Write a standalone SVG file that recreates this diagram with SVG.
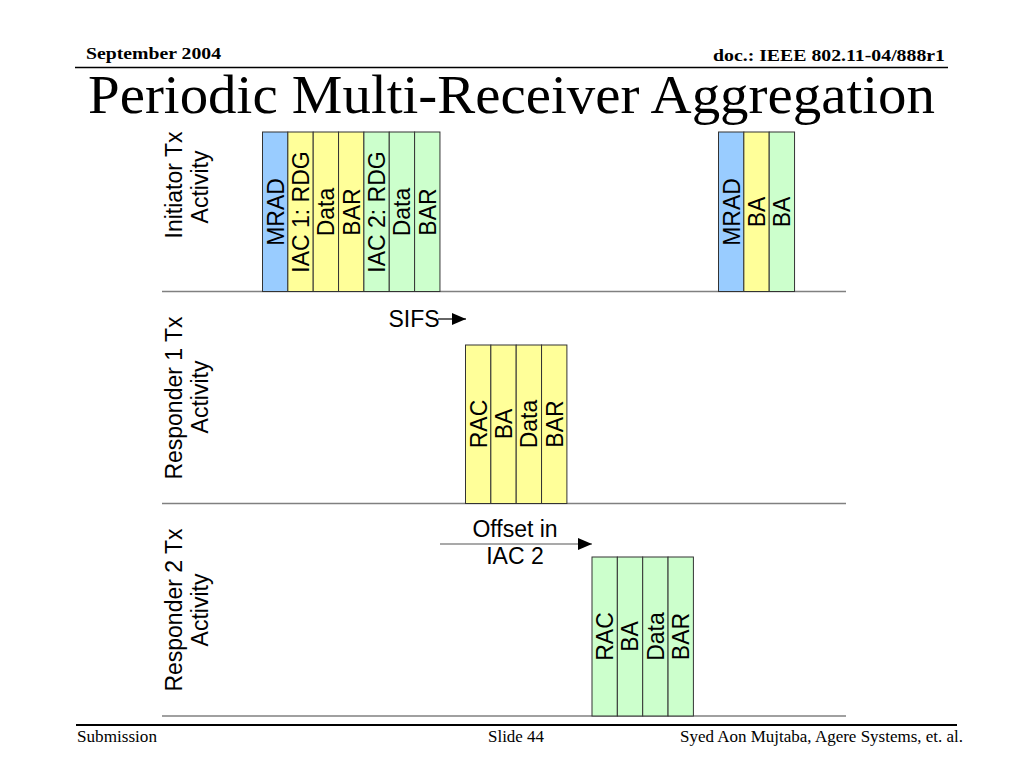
<svg xmlns="http://www.w3.org/2000/svg" width="1024" height="768" viewBox="0 0 1024 768">
<style>
.hdr{font-family:"Liberation Serif","Times New Roman",serif;font-weight:bold;font-size:17px;fill:#000}
.ftr{font-family:"Liberation Serif","Times New Roman",serif;font-size:17px;fill:#000}
.title{font-family:"Liberation Serif","Times New Roman",serif;font-size:54px;fill:#000}
.lbl{font-family:"Liberation Sans",Arial,sans-serif;font-size:23px;fill:#000;text-anchor:middle}
.bt{font-family:"Liberation Sans",Arial,sans-serif;font-size:23px;fill:#000;text-anchor:middle}
.blue{fill:#99CCFF;stroke:#333;stroke-width:1}
.yel{fill:#FFFF99;stroke:#333;stroke-width:1}
.grn{fill:#CCFFCC;stroke:#333;stroke-width:1}
.axis{stroke:#808080;stroke-width:1.5;fill:none}
.arr{stroke:#555;stroke-width:1.2;fill:none}
</style>
<defs>
<marker id="ah" viewBox="0 0 14 12" refX="14" refY="6" markerWidth="14" markerHeight="12" markerUnits="userSpaceOnUse" orient="auto">
<path d="M0,0 L14,6 L0,12 Z" fill="#000"/>
</marker>
</defs>
<rect width="1024" height="768" fill="#fff"/>

<g id="header">
<text class="hdr" x="86" y="59" textLength="135" lengthAdjust="spacingAndGlyphs">September 2004</text>
<text class="hdr" x="713" y="61" textLength="232" lengthAdjust="spacingAndGlyphs">doc.: IEEE 802.11-04/888r1</text>
<line x1="75" y1="67.5" x2="948" y2="67.5" stroke="#000" stroke-width="1.5"/>
<text class="title" x="88" y="113" textLength="847" lengthAdjust="spacingAndGlyphs">Periodic Multi-Receiver Aggregation</text>
</g>

<g id="row-labels">
<text class="lbl" transform="translate(182,185) rotate(-90)">Initiator Tx</text>
<text class="lbl" transform="translate(208,187) rotate(-90)">Activity</text>
<text class="lbl" transform="translate(182,398) rotate(-90)">Responder 1 Tx</text>
<text class="lbl" transform="translate(208,397) rotate(-90)">Activity</text>
<text class="lbl" transform="translate(182,610) rotate(-90)">Responder 2 Tx</text>
<text class="lbl" transform="translate(208,610) rotate(-90)">Activity</text>
</g>

<g id="axes">
<line class="axis" x1="162" y1="291.5" x2="846" y2="291.5"/>
<line class="axis" x1="162" y1="503.5" x2="846" y2="503.5"/>
<line class="axis" x1="162" y1="716" x2="846" y2="716"/>
</g>

<g id="initiator-frames1">
<rect class="blue" x="262.5" y="132" width="25.35" height="159.5"/>
<rect class="yel" x="287.85" y="132" width="25.35" height="159.5"/>
<rect class="yel" x="313.2" y="132" width="25.35" height="159.5"/>
<rect class="yel" x="338.55" y="132" width="25.35" height="159.5"/>
<rect class="grn" x="363.9" y="132" width="25.35" height="159.5"/>
<rect class="grn" x="389.25" y="132" width="25.35" height="159.5"/>
<rect class="grn" x="414.6" y="132" width="25.35" height="159.5"/>
<text class="bt" transform="translate(283.5,212) rotate(-90)">MRAD</text>
<text class="bt" transform="translate(308.8,212) rotate(-90)">IAC 1: RDG</text>
<text class="bt" transform="translate(334.2,212) rotate(-90)">Data</text>
<text class="bt" transform="translate(359.5,212) rotate(-90)">BAR</text>
<text class="bt" transform="translate(384.9,212) rotate(-90)">IAC 2: RDG</text>
<text class="bt" transform="translate(410.2,212) rotate(-90)">Data</text>
<text class="bt" transform="translate(435.6,212) rotate(-90)">BAR</text>
</g>

<g id="initiator-frames2">
<rect class="blue" x="718.5" y="132" width="25.35" height="159.5"/>
<rect class="yel" x="743.85" y="132" width="25.35" height="159.5"/>
<rect class="grn" x="769.2" y="132" width="25.35" height="159.5"/>
<text class="bt" transform="translate(739.5,212) rotate(-90)">MRAD</text>
<text class="bt" transform="translate(764.9,212) rotate(-90)">BA</text>
<text class="bt" transform="translate(790.2,212) rotate(-90)">BA</text>
</g>

<g id="responder1-frames">
<rect class="yel" x="465.5" y="345" width="25.35" height="158.5"/>
<rect class="yel" x="490.85" y="345" width="25.35" height="158.5"/>
<rect class="yel" x="516.2" y="345" width="25.35" height="158.5"/>
<rect class="yel" x="541.55" y="345" width="25.35" height="158.5"/>
<text class="bt" transform="translate(486.5,424) rotate(-90)">RAC</text>
<text class="bt" transform="translate(511.9,424) rotate(-90)">BA</text>
<text class="bt" transform="translate(537.2,424) rotate(-90)">Data</text>
<text class="bt" transform="translate(562.6,424) rotate(-90)">BAR</text>
</g>

<g id="responder2-frames">
<rect class="grn" x="592" y="557" width="25.35" height="159"/>
<rect class="grn" x="617.35" y="557" width="25.35" height="159"/>
<rect class="grn" x="642.7" y="557" width="25.35" height="159"/>
<rect class="grn" x="668.05" y="557" width="25.35" height="159"/>
<text class="bt" transform="translate(613,636.5) rotate(-90)">RAC</text>
<text class="bt" transform="translate(638.4,636.5) rotate(-90)">BA</text>
<text class="bt" transform="translate(663.7,636.5) rotate(-90)">Data</text>
<text class="bt" transform="translate(689.1,636.5) rotate(-90)">BAR</text>
</g>

<g id="connectors">
<line x1="438" y1="319" x2="466" y2="319" stroke="#000" stroke-width="1.2" marker-end="url(#ah)"/>
<line class="arr" x1="440" y1="544" x2="592" y2="544" marker-end="url(#ah)"/>
</g>

<g id="annotations">
<text class="bt" x="414" y="327">SIFS</text>
<text class="bt" x="515" y="537">Offset in</text>
<text class="bt" x="515" y="564">IAC 2</text>
</g>

<g id="footer">
<line x1="76" y1="725" x2="957" y2="725" stroke="#000" stroke-width="2"/>
<text class="ftr" x="77" y="742" textLength="80" lengthAdjust="spacingAndGlyphs">Submission</text>
<text class="ftr" x="488" y="742" textLength="56" lengthAdjust="spacingAndGlyphs">Slide 44</text>
<text class="ftr" x="680" y="742" textLength="283" lengthAdjust="spacingAndGlyphs">Syed Aon Mujtaba, Agere Systems, et. al.</text>
</g>
</svg>
